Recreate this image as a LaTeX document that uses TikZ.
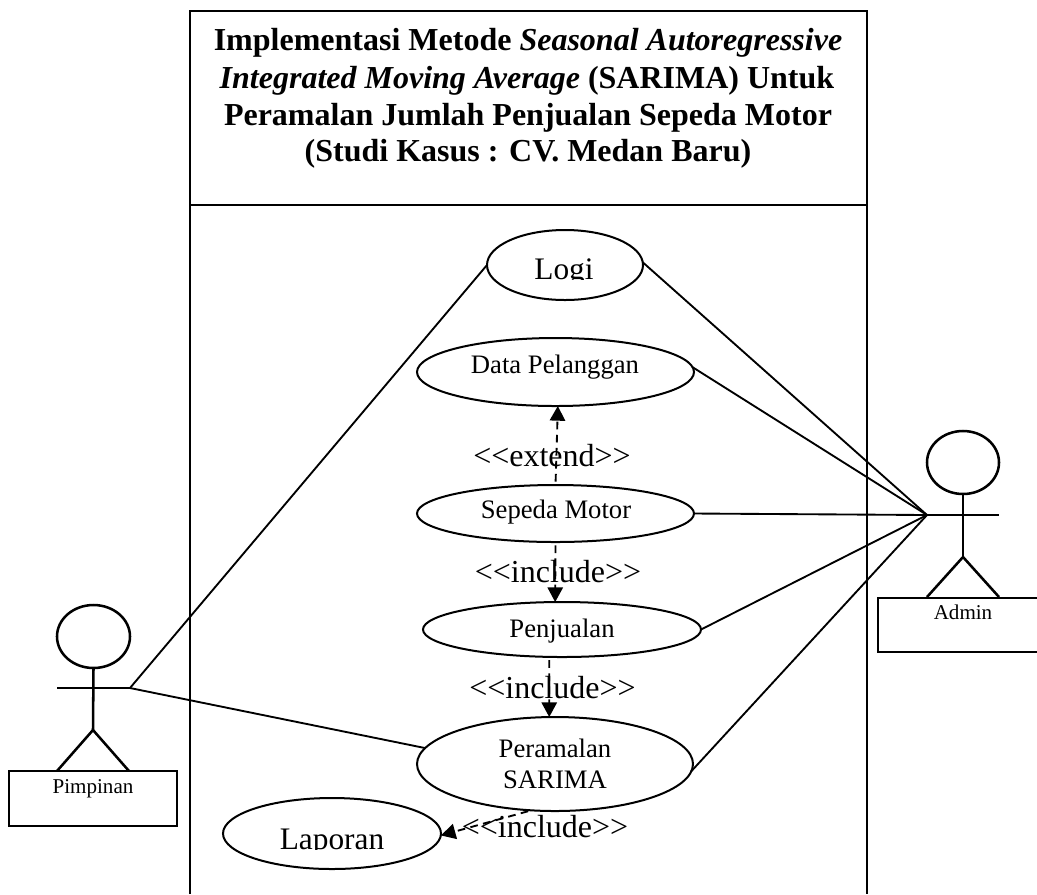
\documentclass[tikz,border=0pt]{standalone}
\usepackage{fontspec}
\setmainfont{Liberation Serif}
\usetikzlibrary{shapes.geometric,arrows.meta}
\newcommand{\fs}[1]{\fontsize{#1}{#1}\selectfont}
\tikzset{
  uc/.style n args={2}{draw=black,line width=1.5pt,ellipse,inner sep=0pt,outer sep=0pt,minimum width=#1*0.75pt,minimum height=#2*0.75pt},
  txt/.style={inner sep=0pt,outer sep=0pt,anchor=base,text=black,align=center},
  ucsmall/.style={txt,font=\fs{20pt}},
  uclarge/.style={txt,font=\fs{23.5pt}},
  stereo/.style={txt,font=\fs{24pt}},
  actorname/.style={txt,font=\fs{15.8pt}},
  titlebox/.style={txt,font=\fs{24pt}\bfseries},
  framed/.style={draw=black,line width=1.6pt},
  limb/.style={draw=black,line width=1.9pt},
  assoc/.style={draw=black,line width=1.4pt},
  dep/.style={draw=black,line width=1.4pt,dash pattern=on 5.8pt off 4pt,shorten <=2.5pt,-{Triangle[length=11pt,width=11.5pt]}},
}
\begin{document}
\begin{tikzpicture}[x=0.75pt,y=-0.75pt]
\useasboundingbox (0,0) rectangle (1037,894);
\clip (0,0) rectangle (1037,894);
% frame
\draw[framed] (190,894) -- (190,11) -- (867,11) -- (867,894);
\draw[draw=black,line width=2.2pt] (190,205) -- (867,205);
% title
\node[titlebox] (t1) at (528,50.5) {Implementasi Metode \textit{Seasonal Autoregressive}};
\node[titlebox] (t2) at (527,88) {\textit{Integrated Moving Average} (SARIMA) Untuk};
\node[titlebox] (t3) at (528,125) {Peramalan Jumlah Penjualan Sepeda Motor};
\node[titlebox] (t4) at (528,161) {(Studi Kasus : CV. Medan Baru)};
% use cases
\node[uc={156}{70}] (login) at (565,265) {};
\node[uc={277}{68}] (data) at (555.5,372) {};
\node[uc={277}{57}] (motor) at (555.5,513.5) {};
\node[uc={278}{55}] (jual) at (562,629.5) {};
\node[uc={276}{94}] (ramal) at (555,764) {};
\node[uc={218}{71}] (lapor) at (332,833.5) {};
% clipped labels
\begin{scope}
\clip (480,240) rectangle (650,279.5);
\node[uclarge] (tlogin) at (564,279) {Logi};
\end{scope}
\begin{scope}
\clip (230,810) rectangle (440,849.5);
\node[uclarge] (tlapor) at (332,849) {Laporan};
\end{scope}
\node[ucsmall] (tdata) at (555,373) {Data Pelanggan};
\node[ucsmall] (tmotor) at (556,518) {Sepeda Motor};
\node[ucsmall] (tjual) at (562,637) {Penjualan};
\node[ucsmall] (tramal) at (555,757) {Peramalan};
\node[ucsmall] (tramal2) at (555,788) {SARIMA};
% stereotype labels
\node[stereo] (e1) at (552,466) {{<}{<}extend{>}{>}};
\node[stereo] (i1) at (558,582) {{<}{<}include{>}{>}};
\node[stereo] (i2) at (552.5,698) {{<}{<}include{>}{>}};
\node[stereo] (i3) at (545,837) {{<}{<}include{>}{>}};
% dependencies
\draw[dep] (motor.90) -- (data.-86);
\draw[dep] (motor.-90) -- (jual.104);
\draw[dep] (jual.-115) -- (ramal.97);
\draw[dep] (ramal.-117) -- (lapor.-1.3);
% left actor
\node[draw=black,line width=1.9pt,ellipse,inner sep=0pt,outer sep=0pt,minimum width=73*0.75pt,minimum height=63*0.75pt] (headL) at (93.5,636.5) {};
\coordinate (hipL) at (93,730);
\coordinate (armLa) at (57,688);
\coordinate (handL) at (130,688);
\node[draw=black,line width=1.5pt,rectangle,inner sep=0pt,outer sep=0pt,minimum width=168.5*0.75pt,minimum height=55*0.75pt] (boxL) at (92.75,798.5) {};
\coordinate (footLa) at (57,771);
\coordinate (footLb) at (129,771);
\draw[limb] (headL.south) -- (hipL);
\draw[limb] (armLa) -- (handL);
\draw[limb] (footLa) -- (hipL) -- (footLb);
\node[actorname] (nameL) at (93,793) {Pimpinan};
% right actor
\node[draw=black,line width=1.9pt,ellipse,inner sep=0pt,outer sep=0pt,minimum width=72*0.75pt,minimum height=63*0.75pt] (headR) at (963,462.5) {};
\coordinate (hipR) at (963,557);
\coordinate (handR) at (927,515);
\coordinate (armRb) at (999,515);
\node[draw=black,line width=1.5pt,rectangle,inner sep=0pt,outer sep=0pt,minimum width=200*0.75pt,minimum height=54.5*0.75pt] (boxR) at (978,625) {};
\coordinate (footRa) at (927,597);
\coordinate (footRb) at (999,597);
\draw[limb] (headR.south) -- (hipR);
\draw[limb] (handR) -- (armRb);
\draw[limb] (footRa) -- (hipR) -- (footRb);
\node[actorname] (nameR) at (963,619) {Admin};
% associations
\draw[assoc] (handL) -- (login.180);
\draw[assoc] (handL) -- (ramal.173.5);
\draw[assoc] (handR) -- (login.2);
\draw[assoc] (handR) -- (data.2.5);
\draw[assoc] (handR) -- (motor.0);
\draw[assoc] (handR) -- (jual.0);
\draw[assoc] (handR) -- (ramal.-3);
\end{tikzpicture}
\end{document}
